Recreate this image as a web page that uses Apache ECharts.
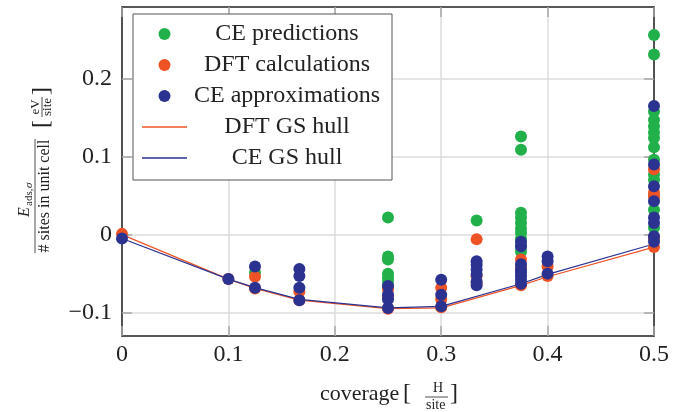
<!DOCTYPE html>
<html lang="en">
<head>
<meta charset="UTF-8">
<title>CE vs DFT adsorption energies</title>
<script src="https://cdn.jsdelivr.net/npm/echarts@6/dist/echarts.min.js"></script>
<style>
    html, body {margin: 0; padding: 0; background: #fff;}
    #chart {width: 694px; height: 412px;}
</style>
</head>
<body>
<div id="chart"></div>
<script>
// values, [coverage, energy per site]
var cePredictions = [
    [0.125, -0.049],
    [0.25, 0.022], [0.25, -0.028], [0.25, -0.032], [0.25, -0.050], [0.25, -0.055], [0.25, -0.060], [0.25, -0.066],
    [0.3333, 0.018],
    [0.375, 0.126], [0.375, 0.109], [0.375, 0.028], [0.375, 0.022], [0.375, 0.015], [0.375, 0.008],
    [0.375, 0.002], [0.375, -0.005], [0.375, -0.015], [0.375, -0.022],
    [0.5, 0.256], [0.5, 0.231], [0.5, 0.158], [0.5, 0.147], [0.5, 0.139], [0.5, 0.131], [0.5, 0.124],
    [0.5, 0.112], [0.5, 0.096], [0.5, 0.077], [0.5, 0.070], [0.5, 0.050], [0.5, 0.032], [0.5, 0.009], [0.5, -0.005]
];
var dftCalculations = [
    [0, 0.001], [0.1, -0.057], [0.125, -0.054], [0.125, -0.069],
    [0.1667, -0.073], [0.1667, -0.084],
    [0.25, -0.070], [0.25, -0.080], [0.25, -0.095],
    [0.3, -0.068], [0.3, -0.083], [0.3, -0.093],
    [0.3333, -0.006], [0.3333, -0.053], [0.3333, -0.062],
    [0.375, -0.032], [0.375, -0.042], [0.375, -0.065],
    [0.4, -0.041], [0.4, -0.053],
    [0.5, 0.084], [0.5, 0.054], [0.5, 0.049], [0.5, -0.004], [0.5, -0.016]
];
var ceApproximations = [
    [0, -0.005], [0.1, -0.057], [0.125, -0.041], [0.125, -0.068],
    [0.1667, -0.044], [0.1667, -0.053], [0.1667, -0.068], [0.1667, -0.084],
    [0.25, -0.066], [0.25, -0.077], [0.25, -0.083], [0.25, -0.094],
    [0.3, -0.058], [0.3, -0.077], [0.3, -0.092],
    [0.3333, -0.034], [0.3333, -0.039], [0.3333, -0.045], [0.3333, -0.051], [0.3333, -0.060], [0.3333, -0.065],
    [0.375, -0.009], [0.375, -0.015], [0.375, -0.038], [0.375, -0.045], [0.375, -0.049], [0.375, -0.053],
    [0.375, -0.058], [0.375, -0.063],
    [0.4, -0.028], [0.4, -0.034], [0.4, -0.050],
    [0.5, 0.165], [0.5, 0.090], [0.5, 0.062], [0.5, 0.043], [0.5, 0.022], [0.5, 0.015], [0.5, -0.002], [0.5, -0.009]
];
var dftHull = [[0, 0.0], [0.1, -0.057], [0.125, -0.069], [0.1667, -0.084], [0.25, -0.095], [0.3, -0.094],
    [0.375, -0.065], [0.4, -0.054], [0.5, -0.016]];
var ceHull = [[0, -0.005], [0.1, -0.057], [0.125, -0.068], [0.1667, -0.083], [0.25, -0.094], [0.3, -0.092],
    [0.375, -0.063], [0.4, -0.051], [0.5, -0.012]];
var yTicks = [-0.1, 0, 0.1, 0.2];
var legendNames = ["CE predictions", "DFT calculations", "CE approximations", "DFT GS hull", "CE GS hull"];

var serif = "'Liberation Serif', 'DejaVu Serif', serif";
var green = "#22b04b", orange = "#ee5325", blue = "#2b3290";
var lineIcon = "path://M0,0 L45,0 L45,1.3 L0,1.3 Z";
var tickStyle = {show: true, inside: true, length: 10, lineStyle: {color: "#a8a8a8", width: 1.5}};
var axisLine = {show: true, onZero: false, lineStyle: {color: "#222", width: 1.5}};

function minus(v) {
    return String(v).replace("-", "\u2212");
}

var chart = echarts.init(document.getElementById("chart"));
chart.setOption({
    animation: false,
    grid: {left: 122, right: 40, top: 7, bottom: 76},
    legend: {
        data: [
            {name: legendNames[0], icon: "circle"},
            {name: legendNames[1], icon: "circle"},
            {name: legendNames[2], icon: "circle"},
            {name: legendNames[3], icon: lineIcon},
            {name: legendNames[4], icon: lineIcon}
        ],
        orient: "vertical",
        left: 133, top: 14,
        padding: [8, 10, 10, 9],
        itemGap: 7,
        itemWidth: 45, itemHeight: 12,
        borderColor: "#555", borderWidth: 1,
        backgroundColor: "#fff",
        formatter: function (name) { return "{c|" + name + "}"; },
        textStyle: {
            fontFamily: serif, fontSize: 24, color: "#222",
            rich: {c: {width: 190, align: "center", fontFamily: serif, fontSize: 24, lineHeight: 22, color: "#222"}}
        }
    },
    xAxis: [{
        type: "value", min: 0, max: 0.5, interval: 0.1,
        axisLine: axisLine, axisTick: tickStyle,
        splitLine: {show: true, lineStyle: {color: "#dcdcdc", width: 1.5}},
        axisLabel: {fontFamily: serif, fontSize: 24, color: "#222", margin: 7}
    }, {
        type: "value", position: "top", min: 0, max: 0.5, interval: 0.1,
        axisLine: axisLine, axisTick: tickStyle, axisLabel: {show: false}, splitLine: {show: false}
    }],
    yAxis: [{
        type: "value", min: -0.13, max: 0.292,
        axisLine: axisLine,
        axisTick: {show: true, inside: true, length: 10, lineStyle: {color: "#a8a8a8", width: 1.5}, customValues: yTicks},
        splitLine: {show: true, lineStyle: {color: "#dcdcdc", width: 1.5}},
        axisLabel: {fontFamily: serif, fontSize: 24, color: "#222", margin: 10, customValues: yTicks, formatter: minus}
    }, {
        type: "value", position: "right", min: -0.13, max: 0.292,
        axisLine: axisLine,
        axisTick: {show: true, inside: true, length: 10, lineStyle: {color: "#a8a8a8", width: 1.5}, customValues: yTicks},
        axisLabel: {show: false}, splitLine: {show: false}
    }],
    series: [
        {name: "CE predictions", type: "scatter", data: cePredictions, symbolSize: 12, z: 3,
            itemStyle: {color: green, opacity: 1}},
        {name: "DFT calculations", type: "scatter", data: dftCalculations, symbolSize: 12, z: 4,
            itemStyle: {color: orange, opacity: 1}},
        {name: "CE approximations", type: "scatter", data: ceApproximations, symbolSize: 12, z: 5,
            itemStyle: {color: blue, opacity: 1}},
        {name: "DFT GS hull", type: "line", data: dftHull, symbol: "none", z: 2,
            lineStyle: {color: orange, width: 1.2}, itemStyle: {color: orange}},
        {name: "CE GS hull", type: "line", data: ceHull, symbol: "none", z: 2,
            lineStyle: {color: blue, width: 1.2}, itemStyle: {color: blue}}
    ],
    graphic: [
        // x axis title: coverage [H/site]
        {type: "text", left: 320, top: 383, style: {text: "coverage", font: "22px " + serif, fill: "#222"}},
        {type: "text", left: 403, top: 382, style: {text: "[", font: "24px " + serif, fill: "#222"}},
        {type: "text", left: 433, top: 381, style: {text: "H", font: "14px " + serif, fill: "#222"}},
        {type: "line", shape: {x1: 425, y1: 397, x2: 448, y2: 397}, style: {stroke: "#222", lineWidth: 0.8}},
        {type: "text", left: 426, top: 398, style: {text: "site", font: "14px " + serif, fill: "#222"}},
        {type: "text", left: 450, top: 382, style: {text: "]", font: "24px " + serif, fill: "#222"}},
        // y axis title, rotated to read bottom to top
        {
            type: "group", x: 35, y: 196, rotation: Math.PI / 2,
            children: [
                {type: "text", x: -21, y: -10, style: {text: "E", font: "italic 16px " + serif, fill: "#222", verticalAlign: "middle"}},
                {type: "text", x: -10, y: -6, style: {text: "ads,", font: "11px " + serif, fill: "#222", verticalAlign: "middle"}},
                {type: "text", x: 8, y: -6, style: {text: "σ", font: "italic 11px " + serif, fill: "#222", verticalAlign: "middle"}},
                {type: "line", shape: {x1: -57, y1: 0, x2: 57, y2: 0}, style: {stroke: "#222", lineWidth: 0.8}},
                {type: "text", x: 0, y: 10, style: {text: "# sites in unit cell", font: "16px " + serif, fill: "#222", align: "center", verticalAlign: "middle"}},
                {type: "text", x: 68, y: 7, style: {text: "[", font: "24px " + serif, fill: "#222", verticalAlign: "middle"}},
                {type: "text", x: 89, y: 1, style: {text: "eV", font: "13px " + serif, fill: "#222", align: "center", verticalAlign: "middle"}},
                {type: "line", shape: {x1: 79, y1: 7, x2: 99, y2: 7}, style: {stroke: "#222", lineWidth: 0.8}},
                {type: "text", x: 89, y: 13, style: {text: "site", font: "13px " + serif, fill: "#222", align: "center", verticalAlign: "middle"}},
                {type: "text", x: 101, y: 7, style: {text: "]", font: "24px " + serif, fill: "#222", verticalAlign: "middle"}}
            ]
        }
    ]
});
</script>
</body>
</html>
